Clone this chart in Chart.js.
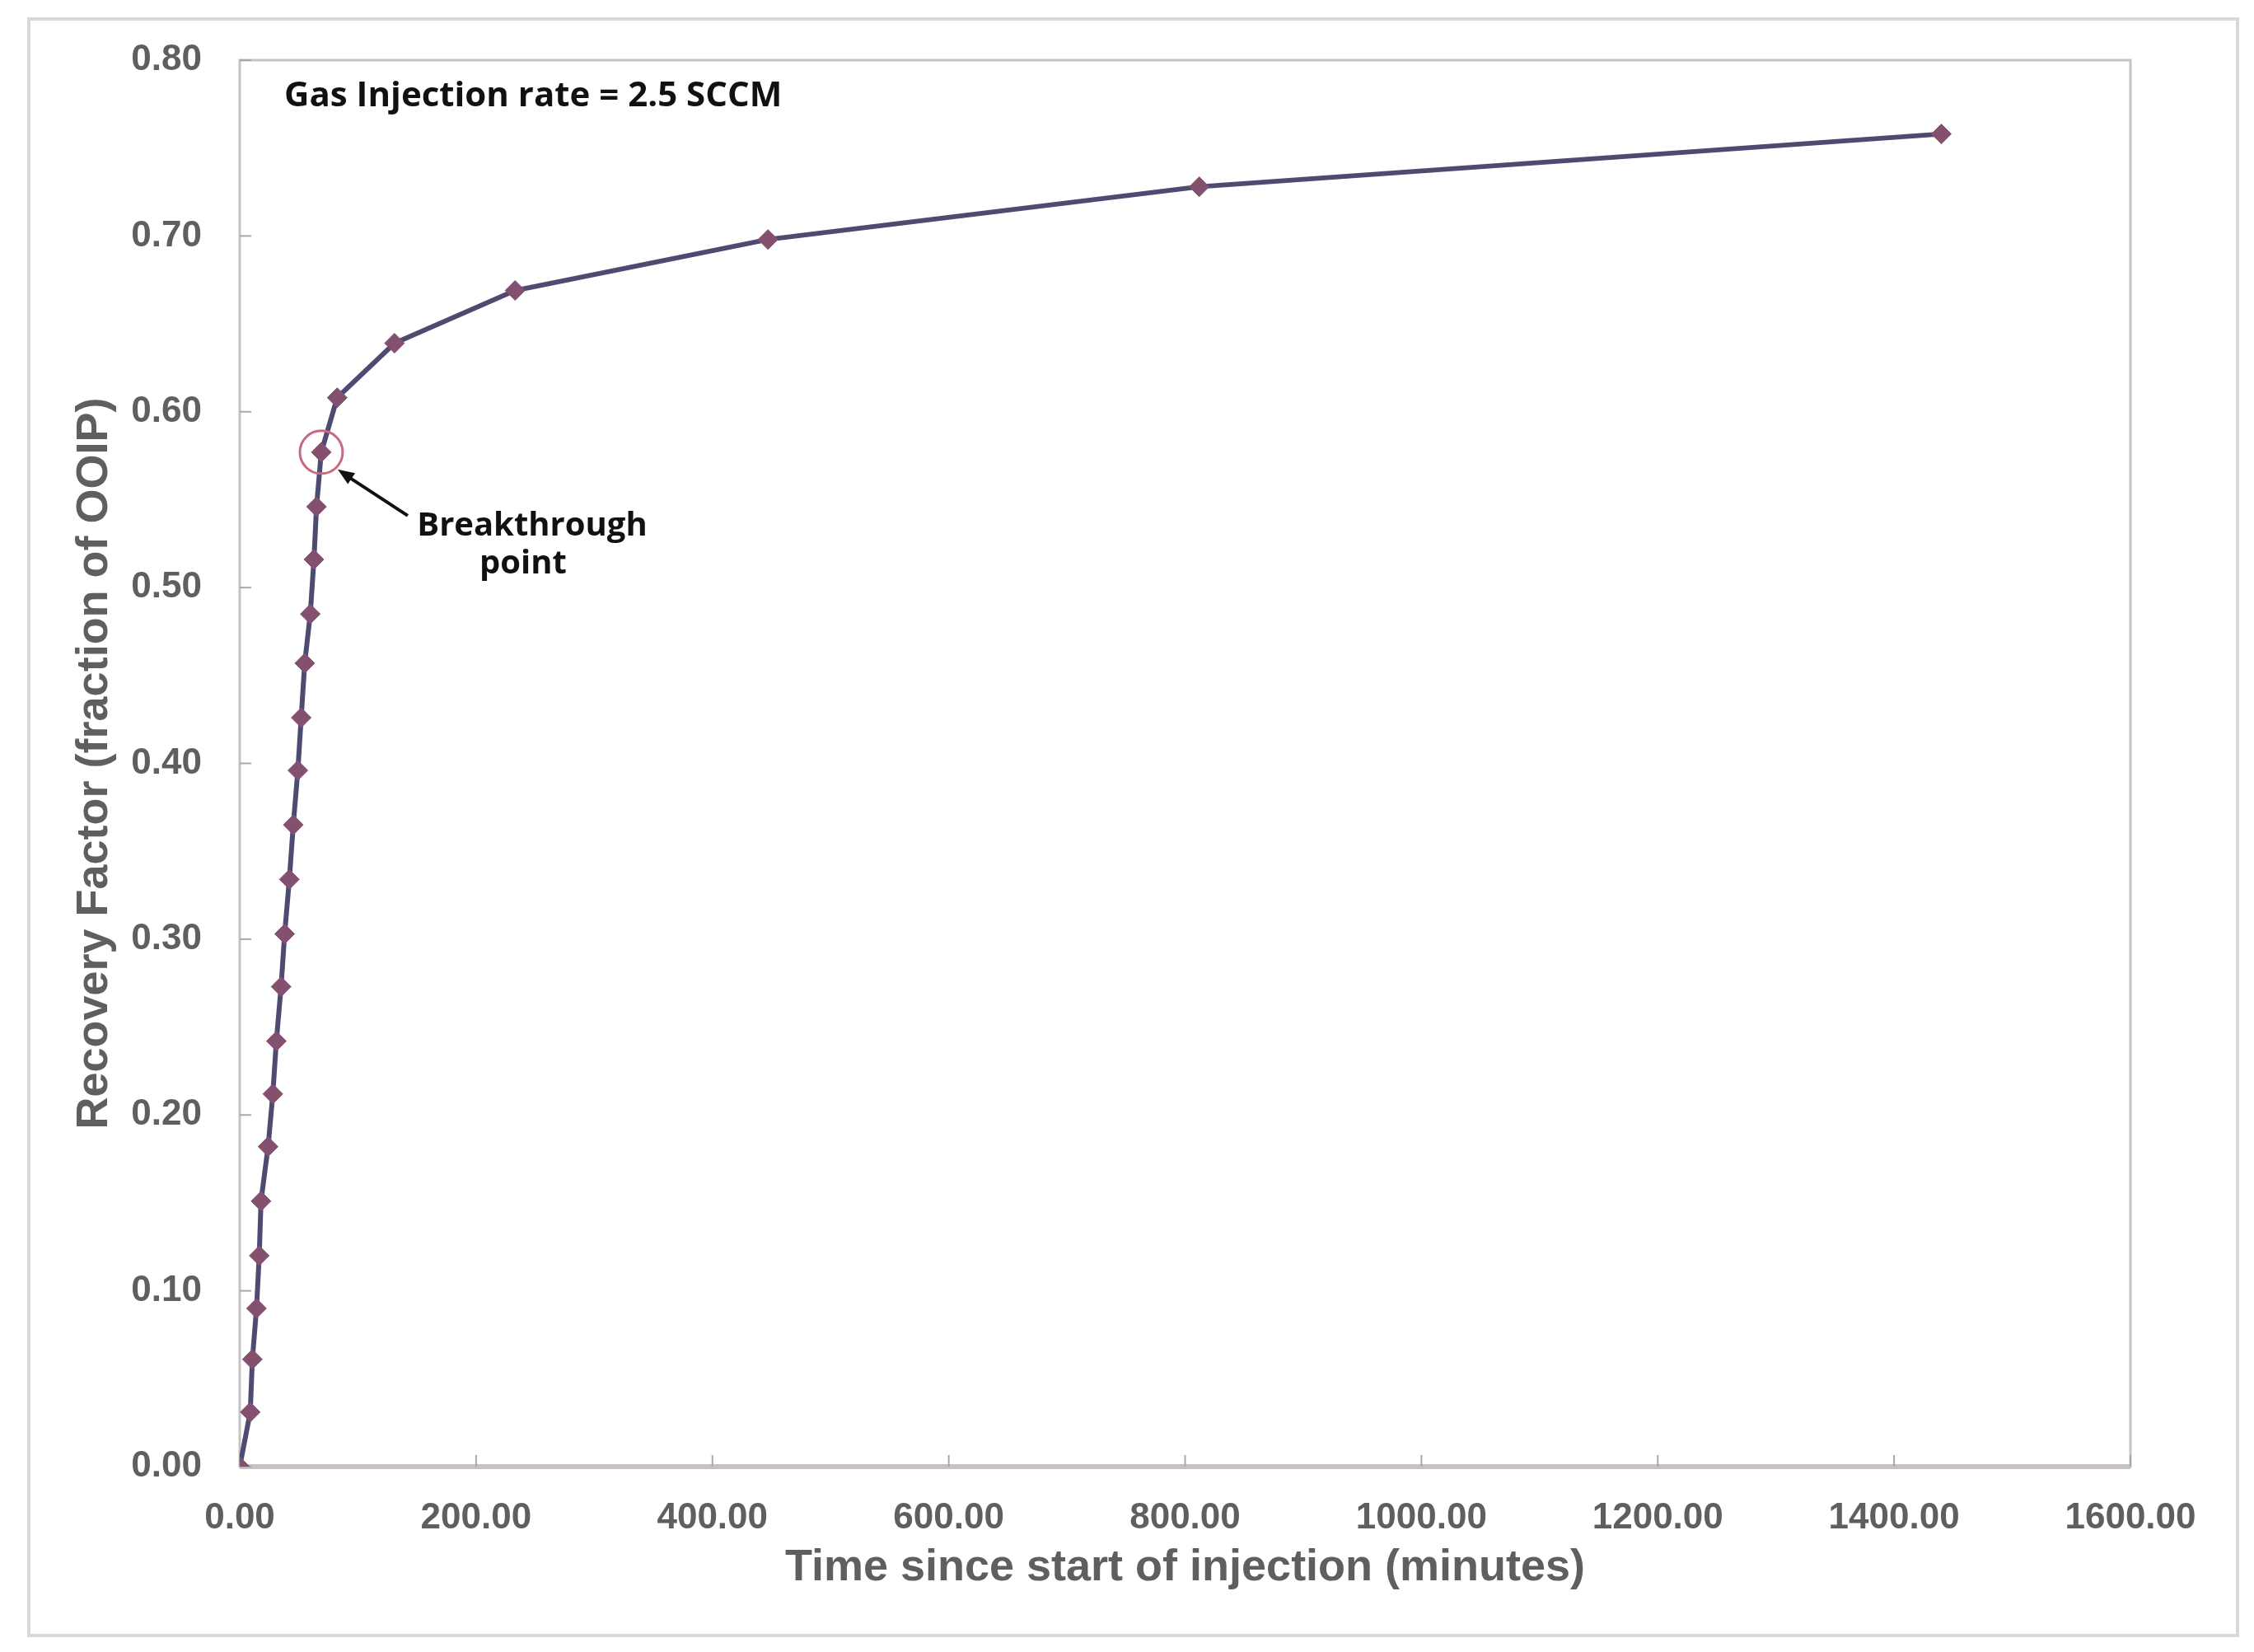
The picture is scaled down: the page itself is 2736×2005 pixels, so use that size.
<!DOCTYPE html>
<html>
<head>
<meta charset="utf-8">
<script src="https://cdn.jsdelivr.net/npm/chart.js@4"></script>
<style>
  html, body { margin: 0; padding: 0; background: #ffffff; }
  canvas { display: block; }
</style>
</head>
<body>
<canvas id="c" width="2736" height="2005"></canvas>
<script>
// ---- data ----
const timeMinutes = [0, 8.9, 10.7, 14.2, 16.5, 18, 24, 28, 31, 35, 38, 42, 45.3, 49.2, 52, 55, 59.7, 62.8, 65, 69, 82.5, 131, 233, 447, 812, 1440];
const recoveryFactor = [0, 0.031, 0.061, 0.090, 0.120, 0.151, 0.182, 0.212, 0.242, 0.273, 0.303, 0.334, 0.365, 0.396, 0.426, 0.457, 0.485, 0.516, 0.546, 0.577, 0.608, 0.639, 0.669, 0.698, 0.728, 0.758];
const breakthroughIndex = 19;
const xTickValues = [0, 200, 400, 600, 800, 1000, 1200, 1400, 1600];
const yTickValues = [0, 0.1, 0.2, 0.3, 0.4, 0.5, 0.6, 0.7, 0.8];
const xTitle = 'Time since start of injection (minutes)';
const yTitle = 'Recovery Factor (fraction of OOIP)';
const noteText = 'Gas Injection rate = 2.5 SCCM';
const calloutLines = ['Breakthrough', 'point'];

const points = timeMinutes.map((t, i) => ({ x: t, y: recoveryFactor[i] }));

const tickFont = { family: 'Liberation Sans, Arial, sans-serif', size: 44, weight: 'bold' };
const titleFont = { family: 'Liberation Sans, Arial, sans-serif', size: 54, weight: 'bold' };
const greyText = '#5f5f5f';

const decor = {
  id: 'decor',
  beforeDraw(chart) {
    const ctx = chart.ctx;
    ctx.save();
    ctx.fillStyle = '#ffffff';
    ctx.fillRect(0, 0, chart.width, chart.height);
    // outer chart frame
    ctx.strokeStyle = '#d8d8d8';
    ctx.lineWidth = 4;
    ctx.strokeRect(35, 23, 2681, 1962);
    ctx.restore();
  },
  beforeDatasetsDraw(chart) {
    const ctx = chart.ctx;
    const a = chart.chartArea;
    const xs = chart.scales.x, ys = chart.scales.y;
    ctx.save();
    // plot area frame
    ctx.strokeStyle = '#c4c4c4';
    ctx.lineWidth = 3;
    ctx.strokeRect(a.left, a.top, a.right - a.left, a.bottom - a.top);
    // x axis line (thicker)
    ctx.strokeStyle = '#c8c0c4';
    ctx.lineWidth = 6;
    ctx.beginPath();
    ctx.moveTo(a.left, a.bottom);
    ctx.lineTo(a.right, a.bottom);
    ctx.stroke();
    // inside tick marks
    ctx.strokeStyle = '#a8a8a8';
    ctx.lineWidth = 2;
    xTickValues.forEach(v => {
      const px = xs.getPixelForValue(v);
      ctx.beginPath();
      ctx.moveTo(px, a.bottom);
      ctx.lineTo(px, a.bottom - 14);
      ctx.stroke();
    });
    yTickValues.forEach(v => {
      const py = ys.getPixelForValue(v);
      ctx.beginPath();
      ctx.moveTo(a.left, py);
      ctx.lineTo(a.left + 14, py);
      ctx.stroke();
    });
    ctx.restore();
  },
  afterDatasetsDraw(chart) {
    const ctx = chart.ctx;
    const a = chart.chartArea;
    const xs = chart.scales.x, ys = chart.scales.y;
    ctx.save();
    // note text
    ctx.fillStyle = '#111111';
    ctx.font = '700 42px "Open Sans", sans-serif';
    ctx.textAlign = 'left';
    ctx.textBaseline = 'middle';
    ctx.fillText(noteText, a.left + 54, a.top + 44);

    // breakthrough circle
    const bx = xs.getPixelForValue(timeMinutes[breakthroughIndex]);
    const by = ys.getPixelForValue(recoveryFactor[breakthroughIndex]);
    ctx.strokeStyle = '#c76a80';
    ctx.lineWidth = 3;
    ctx.beginPath();
    ctx.arc(bx, by, 26, 0, Math.PI * 2);
    ctx.stroke();

    // arrow
    const sx = bx + 105, sy = by + 77;
    const ex = bx + 20, ey = by + 21;
    ctx.strokeStyle = '#111111';
    ctx.fillStyle = '#111111';
    ctx.lineWidth = 4;
    ctx.beginPath();
    ctx.moveTo(sx, sy);
    ctx.lineTo(ex + 10, ey + 7);
    ctx.stroke();
    const ang = Math.atan2(ey - sy, ex - sx);
    ctx.beginPath();
    ctx.moveTo(ex, ey);
    ctx.lineTo(ex - 20 * Math.cos(ang) + 8 * Math.sin(ang), ey - 20 * Math.sin(ang) - 8 * Math.cos(ang));
    ctx.lineTo(ex - 20 * Math.cos(ang) - 8 * Math.sin(ang), ey - 20 * Math.sin(ang) + 8 * Math.cos(ang));
    ctx.closePath();
    ctx.fill();

    // callout text
    ctx.font = '700 40px "Open Sans", sans-serif';
    ctx.textAlign = 'center';
    ctx.fillText(calloutLines[0], bx + 256, by + 90);
    ctx.fillText(calloutLines[1], bx + 245, by + 136);
    ctx.restore();
  }
};

new Chart(document.getElementById('c'), {
  type: 'scatter',
  data: {
    datasets: [{
      data: points,
      showLine: true,
      borderColor: '#4e4b72',
      borderWidth: 6,
      pointStyle: 'rectRot',
      pointRadius: 12,
      pointBackgroundColor: '#84506f',
      pointBorderColor: '#84506f',
      pointBorderWidth: 1,
      tension: 0
    }]
  },
  options: {
    responsive: false,
    devicePixelRatio: 1,
    animation: false,
    layout: { padding: { left: 0, top: 73, right: 150, bottom: 0 } },
    plugins: { legend: { display: false }, tooltip: { enabled: false } },
    scales: {
      x: {
        type: 'linear',
        min: 0, max: 1600,
        afterBuildTicks(scale) { scale.ticks = xTickValues.map(v => ({ value: v })); },
        afterFit(scale) { scale.height = 225; },
        grid: { display: false, drawTicks: false },
        border: { display: false },
        ticks: {
          padding: 36,
          color: greyText,
          font: tickFont,
          maxRotation: 0,
          autoSkip: false,
          callback: v => Number(v).toFixed(2)
        },
        title: {
          display: true,
          text: xTitle,
          color: greyText,
          font: titleFont,
          padding: { top: 0, bottom: 69 }
        }
      },
      y: {
        type: 'linear',
        min: 0, max: 0.8,
        afterBuildTicks(scale) { scale.ticks = yTickValues.map(v => ({ value: v })); },
        afterFit(scale) { scale.width = 291; },
        grid: { display: false, drawTicks: false },
        border: { display: false },
        ticks: {
          padding: 46,
          color: greyText,
          font: tickFont,
          autoSkip: false,
          callback: v => Number(v).toFixed(2)
        },
        title: {
          display: true,
          text: yTitle,
          color: greyText,
          font: titleFont,
          padding: { top: 83, bottom: 0 }
        }
      }
    }
  },
  plugins: [decor]
});
</script>
</body>
</html>
